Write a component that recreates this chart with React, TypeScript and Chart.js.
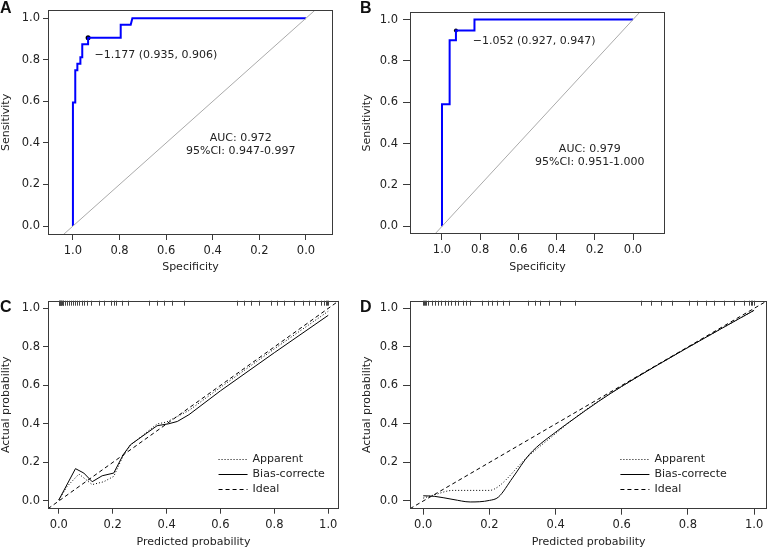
import React, { useEffect, useRef } from "react";
import { Chart, registerables } from "chart.js";

Chart.register(...registerables);

const FONT_FAMILY = "'DejaVu Sans', Verdana, sans-serif";
const TEXT_COLOR = "#222222";
const AXIS_COLOR = "#3a3a3a";

// ---------------- Data ----------------
const rocTicks = [1.0, 0.8, 0.6, 0.4, 0.2, 0.0];
const probTicks = [0.0, 0.2, 0.4, 0.6, 0.8, 1.0];

// Panel A ROC
const rocASpecificity = [1.0, 1.0, 0.99, 0.99, 0.981, 0.981, 0.968, 0.968, 0.96, 0.96, 0.935, 0.935, 0.795, 0.795, 0.752, 0.745, 0.0];
const rocASensitivity = [0.0, 0.594, 0.594, 0.75, 0.75, 0.781, 0.781, 0.812, 0.812, 0.875, 0.875, 0.906, 0.906, 0.969, 0.969, 1.0, 1.0];
const rocACutoff = [0.935, 0.906];
const rocATexts = ["\u22121.177 (0.935, 0.906)", "AUC: 0.972", "95%CI: 0.947-0.997"];

// Panel B ROC
const rocBSpecificity = [1.0, 1.0, 0.96, 0.96, 0.927, 0.927, 0.83, 0.83, 0.0];
const rocBSensitivity = [0.0, 0.59, 0.59, 0.9, 0.9, 0.947, 0.947, 1.0, 1.0];
const rocBCutoff = [0.927, 0.947];
const rocBTexts = ["\u22121.052 (0.927, 0.947)", "AUC: 0.979", "95%CI: 0.951-1.000"];

// Chance diagonal (specificity, sensitivity)
const diagSpecificity = [1.3, -0.3];
const diagSensitivity = [-0.3, 1.3];

// Panel C calibration
const calCApparentX = [0.0, 0.031, 0.075, 0.124, 0.167, 0.204, 0.239, 0.266, 0.365, 0.4, 0.483, 0.6, 0.8, 1.0];
const calCApparentY = [0.005, 0.076, 0.14, 0.085, 0.1, 0.128, 0.235, 0.29, 0.4, 0.41, 0.47, 0.59, 0.79, 0.985];
const calCBiasX = [0.0, 0.062, 0.093, 0.124, 0.161, 0.204, 0.239, 0.266, 0.365, 0.408, 0.44, 0.483, 0.6, 0.8, 1.0];
const calCBiasY = [0.005, 0.168, 0.145, 0.1, 0.131, 0.145, 0.24, 0.292, 0.391, 0.401, 0.413, 0.448, 0.572, 0.77, 0.964];
const calCRug = [0.0, 0.002, 0.004, 0.006, 0.008, 0.01, 0.012, 0.014, 0.016, 0.022, 0.03, 0.038, 0.045, 0.052, 0.06, 0.068, 0.075, 0.085, 0.095, 0.105, 0.118, 0.148, 0.167, 0.195, 0.205, 0.214, 0.235, 0.258, 0.334, 0.363, 0.392, 0.421, 0.464, 0.662, 0.687, 0.712, 0.742, 0.786, 0.811, 0.835, 0.872, 0.905, 0.93, 0.95, 0.975, 0.985, 0.99, 0.995, 1.0];

// Panel D calibration
const calDApparentX = [0.0, 0.03, 0.09, 0.2, 0.227, 0.31, 0.4, 0.45, 0.53, 0.6, 0.8, 1.0];
const calDApparentY = [0.015, 0.03, 0.055, 0.055, 0.075, 0.22, 0.35, 0.42, 0.52, 0.595, 0.797, 0.99];
const calDBiasX = [0.0, 0.035, 0.09, 0.142, 0.2, 0.227, 0.27, 0.32, 0.41, 0.45, 0.53, 0.6, 0.8, 1.0];
const calDBiasY = [0.027, 0.024, 0.008, -0.005, 0.003, 0.02, 0.12, 0.24, 0.37, 0.42, 0.517, 0.595, 0.797, 0.99];
const calDRug = [0.0, 0.003, 0.006, 0.009, 0.015, 0.025, 0.035, 0.045, 0.055, 0.065, 0.075, 0.085, 0.095, 0.105, 0.12, 0.13, 0.141, 0.177, 0.197, 0.207, 0.222, 0.242, 0.258, 0.318, 0.338, 0.354, 0.379, 0.414, 0.46, 0.657, 0.687, 0.718, 0.753, 0.803, 0.828, 0.854, 0.879, 0.909, 0.939, 0.97, 0.985, 0.99, 0.995, 1.0];

// Ideal line
const idealX = [-0.04, 1.04];
const idealY = [-0.04, 1.04];

const calLegendLabels = ["Apparent", "Bias-correcte", "Ideal"];

// ---------------- Styles / layout ----------------
const DOTTED = [1, 2];
const DASHED = [4, 3];
const legendDashes = [DOTTED, [], DASHED];

const toPoints = (xs: number[], ys: number[]) => xs.map((x, i) => ({ x, y: ys[i] }));

type Note = { x: number; y: number; text: string; align: CanvasTextAlign };

const boxPlugin = {
  id: "box",
  afterDatasetsDraw(chart: any) {
    const { ctx, chartArea: a } = chart;
    ctx.save();
    ctx.strokeStyle = AXIS_COLOR;
    ctx.lineWidth = 1;
    const l = Math.round(a.left) + 0.5;
    const t = Math.round(a.top) + 0.5;
    const r = Math.round(a.right) - 0.5;
    const b = Math.round(a.bottom) - 0.5;
    ctx.strokeRect(l, t, r - l, b - t);
    ctx.restore();
  },
};

function notesPlugin(notes: Note[]) {
  return {
    id: "notes",
    afterDatasetsDraw(chart: any) {
      const { ctx, scales } = chart;
      ctx.save();
      ctx.fillStyle = TEXT_COLOR;
      ctx.font = `11px ${FONT_FAMILY}`;
      ctx.textBaseline = "middle";
      for (const n of notes) {
        ctx.textAlign = n.align;
        ctx.fillText(n.text, scales.x.getPixelForValue(n.x), scales.y.getPixelForValue(n.y));
      }
      ctx.restore();
    },
  };
}

function rugPlugin(values: number[]) {
  return {
    id: "rug",
    afterDatasetsDraw(chart: any) {
      const { ctx, scales, chartArea } = chart;
      ctx.save();
      ctx.strokeStyle = "#444";
      ctx.lineWidth = 1;
      ctx.beginPath();
      for (const v of values) {
        const px = Math.round(scales.x.getPixelForValue(v)) + 0.5;
        ctx.moveTo(px, chartArea.top);
        ctx.lineTo(px, chartArea.top + 5);
      }
      ctx.stroke();
      ctx.restore();
    },
  };
}

function legendPlugin(anchorX: number, anchorY: number) {
  return {
    id: "calLegend",
    afterDatasetsDraw(chart: any) {
      const { ctx, scales } = chart;
      const x0 = scales.x.getPixelForValue(anchorX);
      const y0 = scales.y.getPixelForValue(anchorY);
      ctx.save();
      ctx.font = `11px ${FONT_FAMILY}`;
      ctx.textBaseline = "middle";
      ctx.textAlign = "left";
      calLegendLabels.forEach((label, i) => {
        const y = Math.round(y0 + i * 14.8) + 0.5;
        ctx.strokeStyle = "#000";
        ctx.lineWidth = 1;
        ctx.setLineDash(legendDashes[i]);
        ctx.beginPath();
        ctx.moveTo(x0, y);
        ctx.lineTo(x0 + 29, y);
        ctx.stroke();
        ctx.setLineDash([]);
        ctx.fillStyle = TEXT_COLOR;
        ctx.fillText(label, x0 + 34, y);
      });
      ctx.restore();
    },
  };
}

type AxisOpts = {
  min: number;
  max: number;
  reverse?: boolean;
  ticks: number[];
  title: string;
  size: number;
  horizontal: boolean;
  tickLength: number;
  tickPad: number;
  titlePad: number;
};

function axis(o: AxisOpts) {
  return {
    type: "linear",
    min: o.min,
    max: o.max,
    reverse: !!o.reverse,
    afterBuildTicks: (s: any) => {
      s.ticks = o.ticks.map((v) => ({ value: v }));
    },
    afterFit: (s: any) => {
      if (o.horizontal) s.height = o.size;
      else s.width = o.size;
    },
    ticks: {
      callback: (v: any) => Number(v).toFixed(1),
      font: { family: FONT_FAMILY, size: 11.5 },
      color: TEXT_COLOR,
      padding: o.tickPad,
      autoSkip: false,
      maxRotation: 0,
      minRotation: 0,
    },
    grid: {
      display: true,
      drawOnChartArea: false,
      drawTicks: true,
      tickLength: o.tickLength,
      color: AXIS_COLOR,
      tickColor: AXIS_COLOR,
    },
    border: { display: false },
    title: {
      display: true,
      text: o.title,
      font: { family: FONT_FAMILY, size: 11 },
      color: TEXT_COLOR,
      padding: o.horizontal ? { top: 0, bottom: o.titlePad } : { top: o.titlePad, bottom: 0 },
    },
  };
}

type Geo = {
  left: number;
  top: number;
  width: number;
  height: number;
  pad: { left: number; top: number; right: number; bottom: number };
  yWidth: number;
  xHeight: number;
  xRange: [number, number];
  yRange: [number, number];
  yTickLen: number;
  yTickPad: number;
  xTickLen: number;
  xTickPad: number;
  yTitlePad: number;
  xTitlePad: number;
};

const geoA: Geo = {
  left: 0, top: 0, width: 385, height: 276,
  pad: { left: 0, top: 6, right: 52, bottom: 0 },
  yWidth: 48, xHeight: 41,
  xRange: [-0.116, 1.107], yRange: [-0.043, 1.04],
  yTickLen: 5, yTickPad: 3, xTickLen: 5, xTickPad: 4, yTitlePad: 0, xTitlePad: 2,
};
const geoB: Geo = {
  left: 355, top: 0, width: 416, height: 276,
  pad: { left: 0, top: 3, right: 106, bottom: 0 },
  yWidth: 55, xHeight: 42,
  xRange: [-0.1675, 1.1675], yRange: [-0.037, 1.037],
  yTickLen: 7, yTickPad: 5, xTickLen: 6, xTickPad: 3, yTitlePad: 6, xTitlePad: 2,
};
const geoC: Geo = {
  left: 0, top: 280, width: 385, height: 272,
  pad: { left: 0, top: 20.7, right: 46, bottom: 0 },
  yWidth: 48, xHeight: 43.3,
  xRange: [-0.04, 1.04], yRange: [-0.04, 1.04],
  yTickLen: 5, yTickPad: 3, xTickLen: 5, xTickPad: 4, yTitlePad: 0, xTitlePad: 3,
};
const geoD: Geo = {
  left: 355, top: 280, width: 416, height: 272,
  pad: { left: 0, top: 20.7, right: 3.7, bottom: 0 },
  yWidth: 55, xHeight: 43.3,
  xRange: [-0.04, 1.04], yRange: [-0.04, 1.04],
  yTickLen: 7, yTickPad: 5, xTickLen: 6, xTickPad: 3, yTitlePad: 6, xTitlePad: 3,
};

// annotation anchors (data coordinates)
const notePosA = { cut: [0.907, 0.823], auc: [0.28, 0.421], ci: [0.28, 0.359] };
const notePosB = { cut: [0.839, 0.898], auc: [0.226, 0.372], ci: [0.226, 0.312] };
const legendPosC = [0.593, 0.218];
const legendPosD = [0.596, 0.218];

function baseOptions(g: Geo, reverseX: boolean, xTitle: string, yTitle: string, xTicks: number[], yTicks: number[]) {
  return {
    animation: false,
    responsive: false,
    maintainAspectRatio: false,
    devicePixelRatio: 1,
    layout: { padding: g.pad },
    plugins: { legend: { display: false }, tooltip: { enabled: false }, title: { display: false } },
    events: [],
    scales: {
      x: axis({
        min: g.xRange[0], max: g.xRange[1], reverse: reverseX, ticks: xTicks, title: xTitle,
        size: g.xHeight, horizontal: true, tickLength: g.xTickLen, tickPad: g.xTickPad, titlePad: g.xTitlePad,
      }),
      y: axis({
        min: g.yRange[0], max: g.yRange[1], ticks: yTicks, title: yTitle,
        size: g.yWidth, horizontal: false, tickLength: g.yTickLen, tickPad: g.yTickPad, titlePad: g.yTitlePad,
      }),
    },
  };
}

function rocConfig(g: Geo, spec: number[], sens: number[], cut: number[], texts: string[], pos: any, cutRadius: number) {
  return {
    type: "scatter",
    data: {
      datasets: [
        {
          data: toPoints(diagSpecificity, diagSensitivity),
          showLine: true, borderColor: "#aaaaaa", borderWidth: 1, pointRadius: 0, fill: false,
        },
        {
          data: toPoints(spec, sens),
          showLine: true, borderColor: "#0000ff", borderWidth: 2, pointRadius: 0, fill: false, tension: 0,
        },
        {
          data: [{ x: cut[0], y: cut[1] }],
          showLine: false, pointRadius: cutRadius, backgroundColor: "#000", borderColor: "#000", borderWidth: 0,
        },
      ],
    },
    options: baseOptions(g, true, "Specificity", "Sensitivity", rocTicks, probTicks),
    plugins: [
      boxPlugin,
      notesPlugin([
        { x: pos.cut[0], y: pos.cut[1], text: texts[0], align: "left" },
        { x: pos.auc[0], y: pos.auc[1], text: texts[1], align: "center" },
        { x: pos.ci[0], y: pos.ci[1], text: texts[2], align: "center" },
      ]),
    ],
  };
}

function calConfig(g: Geo, ax: number[], ay: number[], bx: number[], by: number[], rug: number[], legendPos: number[], smooth: boolean) {
  const common = { showLine: true, borderColor: "#000", borderWidth: 1, pointRadius: 0, fill: false };
  const curve = smooth ? { cubicInterpolationMode: "monotone" } : { tension: 0 };
  return {
    type: "scatter",
    data: {
      datasets: [
        { ...common, data: toPoints(idealX, idealY), borderDash: DASHED, tension: 0 },
        { ...common, ...curve, data: toPoints(ax, ay), borderDash: DOTTED },
        { ...common, ...curve, data: toPoints(bx, by) },
      ],
    },
    options: baseOptions(g, false, "Predicted probability", "Actual probability", probTicks, probTicks),
    plugins: [boxPlugin, rugPlugin(rug), legendPlugin(legendPos[0], legendPos[1])],
  };
}

function ChartCanvas({ g, build }: { g: Geo; build: () => any }) {
  const ref = useRef<HTMLCanvasElement>(null);
  useEffect(() => {
    const chart = new Chart(ref.current as HTMLCanvasElement, build());
    return () => chart.destroy();
  }, []);
  return (
    <canvas
      ref={ref}
      width={g.width}
      height={g.height}
      style={{ position: "absolute", left: g.left, top: g.top, width: g.width, height: g.height }}
    />
  );
}

const letterStyle = (left: number, top: number): React.CSSProperties => ({
  position: "absolute",
  left,
  top,
  font: "bold 16px 'Liberation Sans', Arial, sans-serif",
  lineHeight: "16px",
  color: "#111",
});

export default function App() {
  return (
    <div style={{ position: "absolute", left: 0, top: 0, width: 771, height: 552, background: "#fff", overflow: "hidden" }}>
      <ChartCanvas g={geoA} build={() => rocConfig(geoA, rocASpecificity, rocASensitivity, rocACutoff, rocATexts, notePosA, 2.5)} />
      <ChartCanvas g={geoB} build={() => rocConfig(geoB, rocBSpecificity, rocBSensitivity, rocBCutoff, rocBTexts, notePosB, 2)} />
      <ChartCanvas g={geoC} build={() => calConfig(geoC, calCApparentX, calCApparentY, calCBiasX, calCBiasY, calCRug, legendPosC, false)} />
      <ChartCanvas g={geoD} build={() => calConfig(geoD, calDApparentX, calDApparentY, calDBiasX, calDBiasY, calDRug, legendPosD, true)} />
      <div style={letterStyle(0, 0)}>A</div>
      <div style={letterStyle(360, 0)}>B</div>
      <div style={letterStyle(0, 299)}>C</div>
      <div style={letterStyle(360, 299)}>D</div>
    </div>
  );
}
